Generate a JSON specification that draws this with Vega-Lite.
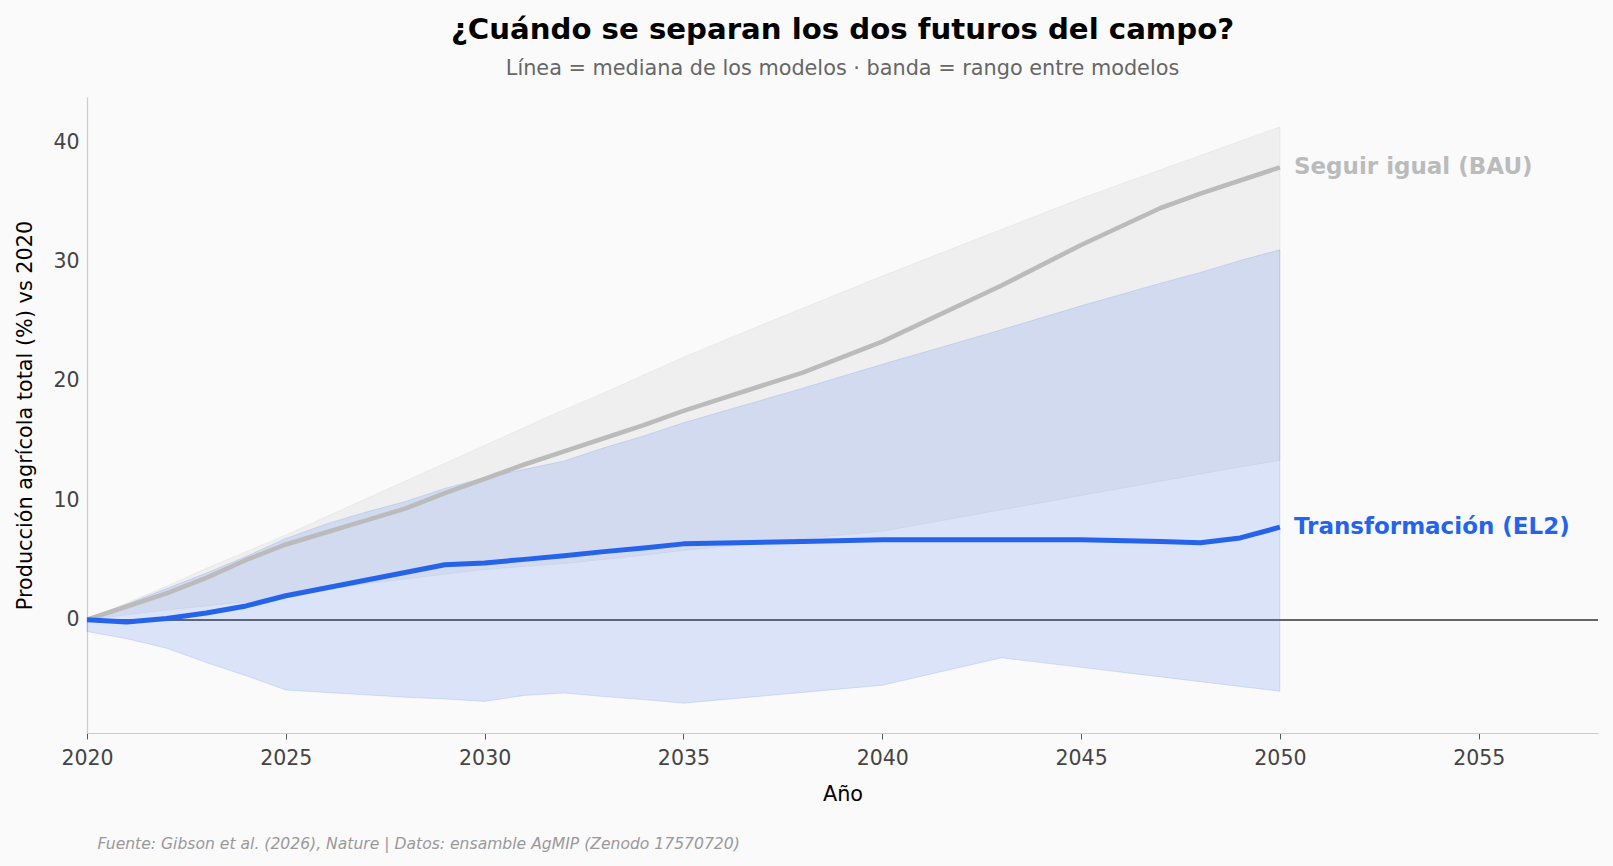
{
  "$schema": "https://vega.github.io/schema/vega-lite/v6.json",
  "background": "#fafafa",
  "autosize": {"type": "pad"},
  "padding": {"left": 14, "top": 16, "right": 15, "bottom": 30},
  "datasets": {
    "series": [
      {"year": 2020, "scenario": "Seguir igual (BAU)", "median": 0, "low": 0, "high": 0},
      {"year": 2021, "scenario": "Seguir igual (BAU)", "median": 1.1, "low": 0.4, "high": 1.4},
      {"year": 2022, "scenario": "Seguir igual (BAU)", "median": 2.2, "low": 0.8, "high": 2.8},
      {"year": 2023, "scenario": "Seguir igual (BAU)", "median": 3.5, "low": 1.15, "high": 4.3},
      {"year": 2024, "scenario": "Seguir igual (BAU)", "median": 5.0, "low": 1.5, "high": 5.7},
      {"year": 2025, "scenario": "Seguir igual (BAU)", "median": 6.3, "low": 2.0, "high": 7.1},
      {"year": 2026, "scenario": "Seguir igual (BAU)", "median": 7.3, "low": 2.5, "high": 8.6},
      {"year": 2027, "scenario": "Seguir igual (BAU)", "median": 8.3, "low": 3.0, "high": 10.1},
      {"year": 2028, "scenario": "Seguir igual (BAU)", "median": 9.3, "low": 3.4, "high": 11.6},
      {"year": 2029, "scenario": "Seguir igual (BAU)", "median": 10.6, "low": 3.8, "high": 13.1},
      {"year": 2030, "scenario": "Seguir igual (BAU)", "median": 11.8, "low": 4.2, "high": 14.6},
      {"year": 2031, "scenario": "Seguir igual (BAU)", "median": 13.0, "low": 4.45, "high": 16.1},
      {"year": 2032, "scenario": "Seguir igual (BAU)", "median": 14.1, "low": 4.7, "high": 17.6},
      {"year": 2033, "scenario": "Seguir igual (BAU)", "median": 15.2, "low": 5.05, "high": 19.0},
      {"year": 2034, "scenario": "Seguir igual (BAU)", "median": 16.3, "low": 5.4, "high": 20.5},
      {"year": 2035, "scenario": "Seguir igual (BAU)", "median": 17.5, "low": 5.8, "high": 22.0},
      {"year": 2038, "scenario": "Seguir igual (BAU)", "median": 20.7, "low": 6.8, "high": 26.1},
      {"year": 2040, "scenario": "Seguir igual (BAU)", "median": 23.3, "low": 7.4, "high": 28.8},
      {"year": 2043, "scenario": "Seguir igual (BAU)", "median": 28.0, "low": 9.2, "high": 32.7},
      {"year": 2045, "scenario": "Seguir igual (BAU)", "median": 31.4, "low": 10.4, "high": 35.3},
      {"year": 2047, "scenario": "Seguir igual (BAU)", "median": 34.5, "low": 11.6, "high": 37.7},
      {"year": 2048, "scenario": "Seguir igual (BAU)", "median": 35.7, "low": 12.2, "high": 38.9},
      {"year": 2049, "scenario": "Seguir igual (BAU)", "median": 36.8, "low": 12.8, "high": 40.1},
      {"year": 2050, "scenario": "Seguir igual (BAU)", "median": 37.9, "low": 13.35, "high": 41.3},
      {"year": 2020, "scenario": "Transformación (EL2)", "median": 0, "low": -1.0, "high": 0},
      {"year": 2021, "scenario": "Transformación (EL2)", "median": -0.2, "low": -1.6, "high": 1.3},
      {"year": 2022, "scenario": "Transformación (EL2)", "median": 0.1, "low": -2.4, "high": 2.6},
      {"year": 2023, "scenario": "Transformación (EL2)", "median": 0.55, "low": -3.6, "high": 3.9},
      {"year": 2024, "scenario": "Transformación (EL2)", "median": 1.15, "low": -4.7, "high": 5.3},
      {"year": 2025, "scenario": "Transformación (EL2)", "median": 2.0, "low": -5.9, "high": 6.8},
      {"year": 2026, "scenario": "Transformación (EL2)", "median": 2.65, "low": -6.1, "high": 8.0},
      {"year": 2027, "scenario": "Transformación (EL2)", "median": 3.3, "low": -6.3, "high": 9.0},
      {"year": 2028, "scenario": "Transformación (EL2)", "median": 3.95, "low": -6.5, "high": 9.9},
      {"year": 2029, "scenario": "Transformación (EL2)", "median": 4.6, "low": -6.65, "high": 11.0},
      {"year": 2030, "scenario": "Transformación (EL2)", "median": 4.75, "low": -6.85, "high": 11.9},
      {"year": 2031, "scenario": "Transformación (EL2)", "median": 5.05, "low": -6.35, "high": 12.6},
      {"year": 2032, "scenario": "Transformación (EL2)", "median": 5.35, "low": -6.15, "high": 13.3},
      {"year": 2033, "scenario": "Transformación (EL2)", "median": 5.7, "low": -6.45, "high": 14.4},
      {"year": 2034, "scenario": "Transformación (EL2)", "median": 6.0, "low": -6.7, "high": 15.4},
      {"year": 2035, "scenario": "Transformación (EL2)", "median": 6.35, "low": -7.0, "high": 16.5},
      {"year": 2038, "scenario": "Transformación (EL2)", "median": 6.55, "low": -6.1, "high": 19.4},
      {"year": 2040, "scenario": "Transformación (EL2)", "median": 6.7, "low": -5.5, "high": 21.4},
      {"year": 2043, "scenario": "Transformación (EL2)", "median": 6.7, "low": -3.2, "high": 24.3},
      {"year": 2045, "scenario": "Transformación (EL2)", "median": 6.7, "low": -4.0, "high": 26.3},
      {"year": 2047, "scenario": "Transformación (EL2)", "median": 6.55, "low": -4.8, "high": 28.2},
      {"year": 2048, "scenario": "Transformación (EL2)", "median": 6.45, "low": -5.2, "high": 29.1},
      {"year": 2049, "scenario": "Transformación (EL2)", "median": 6.85, "low": -5.6, "high": 30.1},
      {"year": 2050, "scenario": "Transformación (EL2)", "median": 7.75, "low": -6.0, "high": 31.0}
    ]
  },
  "title": {
    "text": "Fuente: Gibson et al. (2026), Nature | Datos: ensamble AgMIP (Zenodo 17570720)",
    "orient": "bottom",
    "anchor": "start",
    "frame": "bounds",
    "dx": 83,
    "offset": 33,
    "fontSize": 15.6,
    "fontStyle": "italic",
    "fontWeight": "normal",
    "color": "#999999",
    "font": "DejaVu Sans"
  },
  "vconcat": [
    {
      "title": {
        "text": "¿Cuándo se separan los dos futuros del campo?",
        "subtitle": "Línea = mediana de los modelos · banda = rango entre modelos",
        "anchor": "middle",
        "frame": "group",
        "fontSize": 29.2,
        "fontWeight": "bold",
        "color": "#000000",
        "subtitleFontSize": 20.8,
        "subtitleColor": "#666666",
        "subtitlePadding": 14,
        "offset": 18,
        "font": "DejaVu Sans",
        "subtitleFont": "DejaVu Sans"
      },
      "width": 1511,
      "height": 636,
      "data": {"name": "series"},
      "encoding": {
        "x": {
          "field": "year",
          "type": "quantitative",
          "scale": {"domain": [2020, 2058], "nice": false, "zero": false},
          "axis": {
            "title": "Año",
            "values": [2020, 2025, 2030, 2035, 2040, 2045, 2050, 2055],
            "format": "d",
            "grid": false,
            "labelFlush": false,
            "tickSize": 6,
            "tickColor": "#555555",
            "labelPadding": 9,
            "titlePadding": 16
          }
        }
      },
      "layer": [
        {
          "mark": {"type": "rule", "color": "#666666", "strokeWidth": 1.3},
          "encoding": {"x": {"datum": 2020}, "x2": {"datum": 2058}, "y": {"datum": 0}}
        },
        {
          "transform": [{"filter": "datum.scenario === 'Seguir igual (BAU)'"}],
          "mark": {"type": "area", "fill": "#bbbbbb", "fillOpacity": 0.18, "stroke": "#bbbbbb", "strokeOpacity": 0.18, "strokeWidth": 1},
          "encoding": {
            "y": {
              "field": "high",
              "type": "quantitative",
              "scale": {"domain": [-9.5, 43.8], "nice": false, "zero": false},
              "axis": {
                "title": "Producción agrícola total (%) vs 2020",
                "values": [0, 10, 20, 30, 40],
                "ticks": false,
                "labelPadding": 8,
                "titlePadding": 17.5
              }
            },
            "y2": {"field": "low"}
          }
        },
        {
          "transform": [{"filter": "datum.scenario === 'Transformación (EL2)'"}],
          "mark": {"type": "area", "fill": "#2563eb", "fillOpacity": 0.15, "stroke": "#2563eb", "strokeOpacity": 0.15, "strokeWidth": 1},
          "encoding": {
            "y": {"field": "high", "type": "quantitative"},
            "y2": {"field": "low"}
          }
        },
        {
          "transform": [{"filter": "datum.scenario === 'Seguir igual (BAU)'"}],
          "mark": {"type": "line", "color": "#bbbbbb", "strokeWidth": 4.6, "strokeJoin": "round"},
          "encoding": {"y": {"field": "median", "type": "quantitative"}}
        },
        {
          "transform": [{"filter": "datum.scenario === 'Transformación (EL2)'"}],
          "mark": {"type": "line", "color": "#2563eb", "strokeWidth": 5, "strokeJoin": "round"},
          "encoding": {"y": {"field": "median", "type": "quantitative"}}
        },
        {
          "transform": [{"filter": "datum.year === 2050"}],
          "mark": {"type": "text", "align": "left", "baseline": "middle", "dx": 14, "fontSize": 23, "fontWeight": "bold", "font": "DejaVu Sans"},
          "encoding": {
            "y": {"field": "median", "type": "quantitative"},
            "text": {"field": "scenario"},
            "color": {
              "field": "scenario",
              "type": "nominal",
              "scale": {"domain": ["Seguir igual (BAU)", "Transformación (EL2)"], "range": ["#bbbbbb", "#2563eb"]},
              "legend": null
            }
          }
        }
      ]
    }
  ],
  "config": {
    "font": "DejaVu Sans",
    "view": {"stroke": null},
    "axis": {
      "labelFont": "DejaVu Sans",
      "titleFont": "DejaVu Sans",
      "labelFontSize": 20.5,
      "labelColor": "#444444",
      "titleFontSize": 20.8,
      "titleFontWeight": "normal",
      "titleColor": "#000000",
      "domainColor": "#cccccc",
      "domainWidth": 1.2,
      "gridColor": "#ebebeb",
      "gridWidth": 1
    }
  }
}
